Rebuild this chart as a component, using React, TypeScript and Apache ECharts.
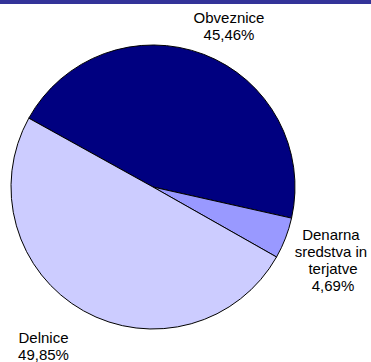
import React, { useEffect, useRef } from "react";
import * as echarts from "echarts";

const categories = ["Obveznice", "Denarna sredstva in terjatve", "Delnice"];
const shares = [45.46, 4.69, 49.85];
const colors = ["#000080", "#9999FF", "#CCCCFF"];

const labelCenters: [number, number][] = [
  [229, 25.5],
  [333, 260],
  [43.5, 345.5],
];

export default function App() {
  const ref = useRef<HTMLDivElement>(null);
  useEffect(() => {
    if (!ref.current) return;
    const chart = echarts.init(ref.current, undefined, { renderer: "svg" });
    chart.setOption({
      animation: false,
      backgroundColor: "#ffffff",
      graphic: [
        {
          type: "rect",
          shape: { x: 0, y: 0, width: 371, height: 4 },
          style: { fill: "#333399" },
          silent: true,
        },
      ],
      series: [
        {
          type: "pie",
          center: [153, 187],
          radius: 142,
          startAngle: 151,
          clockwise: true,
          itemStyle: { borderColor: "#000000", borderWidth: 1 },
          label: {
            show: true,
            position: "outside",
            fontFamily: "Liberation Sans, Arial, sans-serif",
            fontSize: 15,
            lineHeight: 17,
            color: "#000000",
            width: 80,
            overflow: "break",
            align: "center",
            formatter: (p: any) =>
              p.name + "\n" + String(p.value.toFixed(2)).replace(".", ",") + "%",
          },
          labelLine: { show: false },
          labelLayout: (p: any) => ({
            x: labelCenters[p.dataIndex][0],
            y: labelCenters[p.dataIndex][1],
            align: "center",
            verticalAlign: "middle",
          }),
          emphasis: { disabled: true },
          data: categories.map((c, i) => ({
            name: c,
            value: shares[i],
            itemStyle: { color: colors[i] },
          })),
        },
      ],
    });
    return () => chart.dispose();
  }, []);
  return (
    <div
      ref={ref}
      style={{ position: "absolute", left: 0, top: 0, width: 371, height: 362 }}
    />
  );
}
